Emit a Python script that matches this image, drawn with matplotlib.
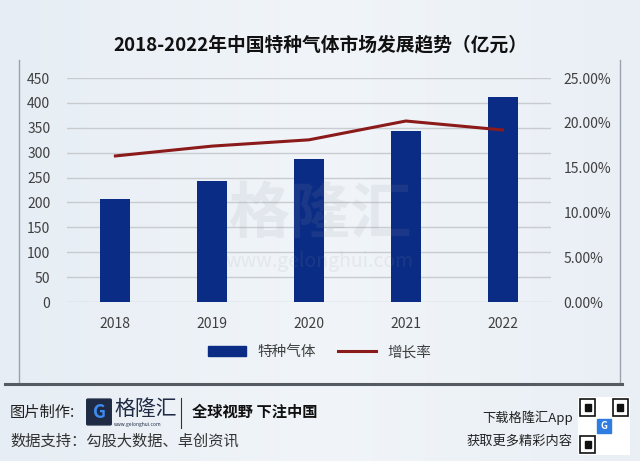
import matplotlib.pyplot as plt
import matplotlib.patches as mpatches
import numpy as np

plt.rcParams['font.family'] = ['Noto Sans CJK SC', 'DejaVu Sans']

years = ['2018', '2019', '2020', '2021', '2022']
market = [206, 244, 287, 344, 411]
growth = [16.3, 17.4, 18.1, 20.2, 19.2]

bar_color = '#0b2c84'
line_color = '#8b1a1a'
text_color = '#404040'

fig = plt.figure(figsize=(6.4, 4.61), dpi=100)

# background gradient
bg = fig.add_axes([0, 0, 1, 1], zorder=-10)
grad = np.linspace(0, 1, 256).reshape(1, -1)
bg.imshow(grad, aspect='auto', cmap=plt.matplotlib.colors.LinearSegmentedColormap.from_list(
    'bg', ['#e6edf4', '#f1f5f9', '#e9eff5']), extent=[0, 1, 0, 1])
bg.set_xlim(0, 1)
bg.set_ylim(0, 1)
bg.axis('off')

# frame lines
fig.add_artist(plt.Line2D([19/640, 19/640], [1 - 60/461, 1 - 382/461], color='#9aa3ad', lw=1))
fig.add_artist(plt.Line2D([620/640, 620/640], [1 - 60/461, 1 - 382/461], color='#9aa3ad', lw=1))
fig.add_artist(plt.Line2D([5/640, 622/640], [1 - 384/461, 1 - 384/461], color='#555b63', lw=2.2))

ax = fig.add_axes([67/640, 1 - 302/461, (551 - 67)/640, (302 - 78)/461])
ax.patch.set_alpha(0)
x = np.arange(len(years))
ax.bar(x, market, width=0.31, color=bar_color, zorder=3, label='特种气体')
ax.set_xlim(-0.5, 4.5)
ax.set_ylim(0, 450)
ax.set_yticks(range(0, 451, 50))
ax.set_xticks(x)
ax.set_xticklabels(years)
ax.grid(axis='y', color='#c8ccd0', lw=1, zorder=0)
for s in ax.spines.values():
    s.set_visible(False)
ax.tick_params(length=0, labelsize=10, colors=text_color, pad=12)
ax.tick_params(axis='x', pad=11)

ax2 = ax.twinx()
ax2.plot(x, growth, color=line_color, lw=2.2, zorder=4, label='增长率')
ax2.set_ylim(0, 25)
ax2.set_yticks(np.arange(0, 25.1, 5))
ax2.set_yticklabels([f'{v:.2f}%' for v in np.arange(0, 25.1, 5)])
for s in ax2.spines.values():
    s.set_visible(False)
ax2.tick_params(length=0, labelsize=10, colors=text_color, pad=9)

# watermark
fig.text(0.5, 1 - 215/461, '格隆汇', fontsize=44, color='#8a94a0', alpha=0.12,
         ha='center', va='center', fontweight='bold')
fig.text(0.5, 1 - 262/461, 'www.gelonghui.com', fontsize=14, color='#8a94a0', alpha=0.12,
         ha='center', va='center')

# title
fig.text(0.5, 1 - 45/461, '2018-2022年中国特种气体市场发展趋势（亿元）', fontsize=13.5,
         fontweight='bold', ha='center', va='center', color='#111111')

# legend
h1 = mpatches.Patch(color=bar_color)
h2 = plt.Line2D([], [], color=line_color, lw=2.2)
fig.legend([h1, h2], ['特种气体', '增长率'], loc='center', bbox_to_anchor=(0.5, 1 - 352/461),
           ncol=2, frameon=False, fontsize=10.5, handlelength=2.6, columnspacing=1.5,
           labelcolor=text_color)

# footer
fig.text(10/640, 1 - 412/461, '图片制作:', fontsize=11, color='#222222', va='center')
fig.add_artist(mpatches.FancyBboxPatch((88/640, 1 - 424/461), 22/640, 24/461,
               boxstyle='round,pad=0.002', color='#1f2a44', transform=fig.transFigure))
fig.text(99/640, 1 - 412/461, 'G', fontsize=13, color='#3d8bf0', fontweight='bold',
         ha='center', va='center')
fig.text(114/640, 1 - 409/461, '格隆汇', fontsize=15, color='#1f2a44', va='center')
fig.text(114/640, 1 - 424/461, 'www.gelonghui.com', fontsize=3.5, color='#1f2a44', va='center')
fig.add_artist(plt.Line2D([181/640, 181/640], [1 - 398/461, 1 - 428/461], color='#333333', lw=0.8))
fig.text(192/640, 1 - 412/461, '全球视野 下注中国', fontsize=11, color='#111111',
         fontweight='bold', va='center')
fig.text(10/640, 1 - 441/461, '数据支持：勾股大数据、卓创资讯', fontsize=11, color='#333333', va='center')
fig.text(573/640, 1 - 418/461, '下载格隆汇App', fontsize=9.5, color='#222222', ha='right', va='center')
fig.text(573/640, 1 - 441/461, '获取更多精彩内容', fontsize=9.5, color='#222222', ha='right', va='center')

# qr placeholder
qr = fig.add_axes([578/640, 1 - 455/461, 52/640, 58/461])
qr.set_xlim(0, 7)
qr.set_ylim(0, 7)
qr.axis('off')
qr.add_patch(mpatches.Rectangle((0, 0), 7, 7, color='white'))
for (cx, cy) in [(0.3, 4.7), (4.7, 4.7), (0.3, 0.3)]:
    qr.add_patch(mpatches.Rectangle((cx, cy), 2, 2, fill=False, ec='#111111', lw=1.2))
    qr.add_patch(mpatches.Rectangle((cx + 0.6, cy + 0.6), 0.8, 0.8, color='#111111'))
qr.add_patch(mpatches.Rectangle((2.6, 2.6), 1.8, 1.8, color='#2f7de1'))
qr.text(3.5, 3.5, 'G', color='white', fontsize=7, fontweight='bold', ha='center', va='center')

fig.savefig('out.png', dpi=100)
